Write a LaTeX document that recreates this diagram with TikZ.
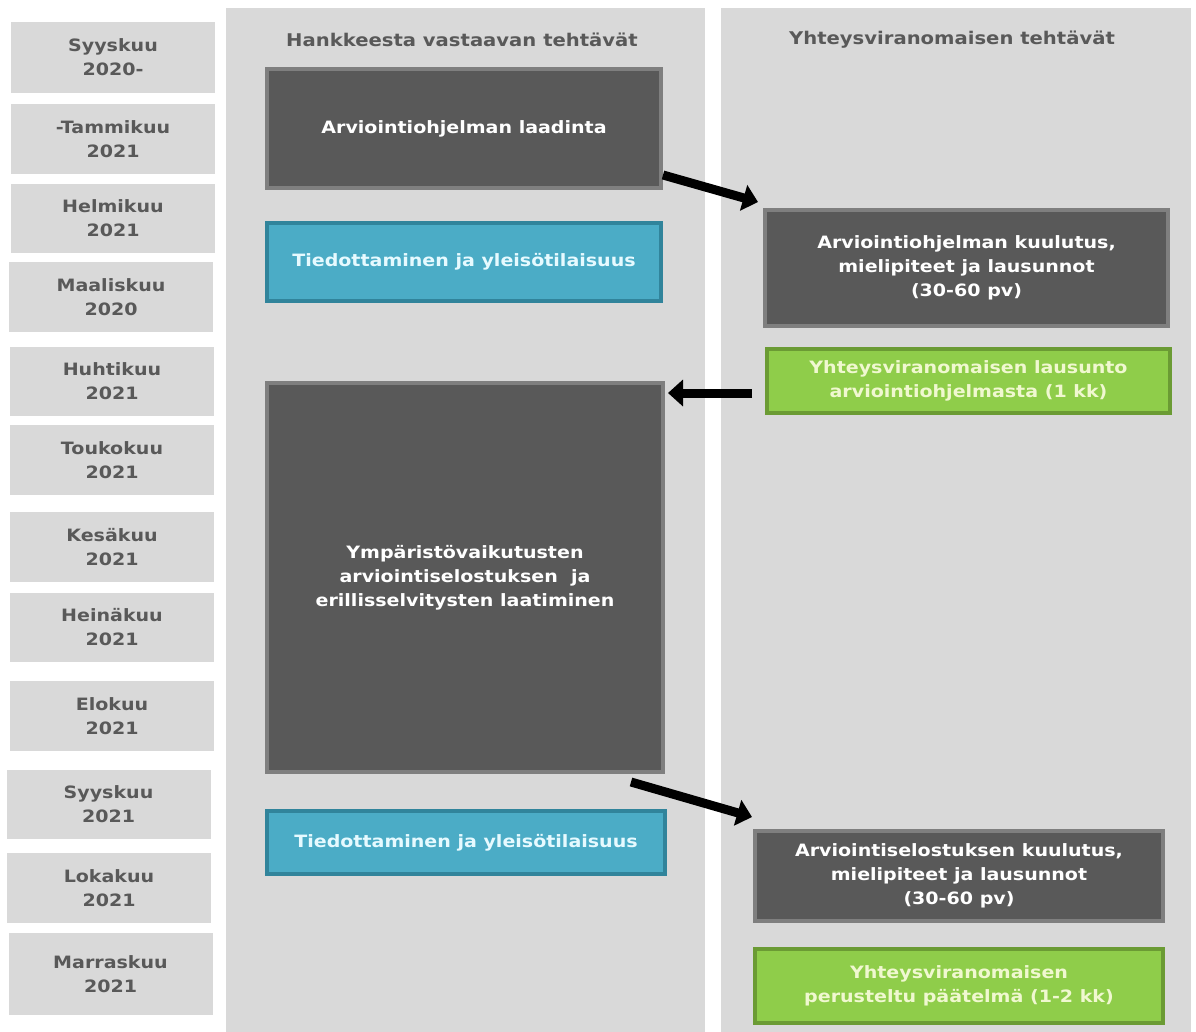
\documentclass[tikz,border=0pt]{standalone}
\usepackage{fontspec}
\setmainfont{DejaVu Sans}[FakeStretch=1.12]
\usetikzlibrary{positioning,arrows.meta}
\definecolor{kuugrey}{HTML}{D9D9D9}
\definecolor{kuutext}{HTML}{595959}
\definecolor{darkfill}{HTML}{595959}
\definecolor{darkline}{HTML}{7F7F7F}
\definecolor{bluefill}{HTML}{4BACC6}
\definecolor{blueline}{HTML}{31849B}
\definecolor{bluetext}{HTML}{E6FAFF}
\definecolor{greenfill}{HTML}{8FCD4A}
\definecolor{greenline}{HTML}{6B9B34}
\definecolor{greentext}{HTML}{F0F8D0}

\begin{document}
\begin{tikzpicture}[x=1pt,y=-1pt,
                month/.style={rectangle, fill=kuugrey, text=kuutext, align=center,
                    minimum width=204pt, inner sep=0pt,
                    font=\fontsize{17}{24}\selectfont\bfseries},
                header/.style={text=kuutext, font=\fontsize{17.5}{24}\selectfont\bfseries},
                task/.style={rectangle, line width=4pt, align=center, inner sep=0pt,
                    font=\fontsize{17}{24}\selectfont\bfseries},
                darkbox/.style={task, draw=darkline, fill=darkfill, text=white},
                bluebox/.style={task, draw=blueline, fill=bluefill, text=bluetext},
                greenbox/.style={task, draw=greenline, fill=greenfill, text=greentext},
                bigarrow/.style={line width=9pt, -{Triangle[length=15pt,width=26pt]}},]
            \useasboundingbox (0,0) rectangle (1196,1032);
            \fill[kuugrey] (226,8) rectangle (705,1032);
            \fill[kuugrey] (721,8) rectangle (1191,1032);

            \foreach \x/\y/\h/\name/\txt in {
                    113/57.5/71/m1/{Syyskuu\\2020-},
                    113/139/70/m2/{-Tammikuu\\2021},
                    113/218.5/69/m3/{Helmikuu\\2021},
                    111/297/70/m4/{Maaliskuu\\2020},
                    112/381.5/69/m5/{Huhtikuu\\2021},
                    112/460/70/m6/{Toukokuu\\2021},
                    112/547/70/m7/{Kesäkuu\\2021},
                    112/627.5/69/m8/{Heinäkuu\\2021},
                    112/716/70/m9/{Elokuu\\2021},
                    108.5/804.5/69/m10/{Syyskuu\\2021},
                    109/888/70/m11/{Lokakuu\\2021},
                    110.5/974/82/m12/{Marraskuu\\2021}}
                \node[month, minimum height=\h pt] (\name) at (\x,\y) {\txt};

            \node[header] (hanke) at (462,40) {Hankkeesta vastaavan tehtävät};
            \node[header] (yhteys) at (952,40) {Yhteysviranomaisen tehtävät};

            \node[darkbox, minimum width=394pt, minimum height=119pt] (laadinta) at (464,128.5)
                {Arviointiohjelman laadinta};
            \node[bluebox, minimum width=394pt, minimum height=78pt] (tied1) at (464,262)
                {Tiedottaminen ja yleisötilaisuus};
            \node[darkbox, minimum width=403pt, minimum height=116pt] (ohjkuul) at (966.5,268)
                {Arviointiohjelman kuulutus,\\mielipiteet ja lausunnot\\(30-60 pv)};
            \node[greenbox, minimum width=403pt, minimum height=64pt] (lausunto) at (968.5,381)
                {Yhteysviranomaisen lausunto\\arviointiohjelmasta (1 kk)};
            \node[darkbox, minimum width=396pt, minimum height=389pt] (ymparisto) at (465,577.5)
                {Ympäristövaikutusten\\arviointiselostuksen~~ja\\erillisselvitysten laatiminen};
            \node[bluebox, minimum width=398pt, minimum height=63pt] (tied2) at (466,842.5)
                {Tiedottaminen ja yleisötilaisuus};
            \node[darkbox, minimum width=408pt, minimum height=90pt] (selkuul) at (959,876)
                {Arviointiselostuksen kuulutus,\\mielipiteet ja lausunnot\\(30-60 pv)};
            \node[greenbox, minimum width=408pt, minimum height=74pt] (paatelma) at (959,986)
                {Yhteysviranomaisen\\perusteltu päätelmä (1-2 kk)};

            \draw[bigarrow] ([yshift=15pt]laadinta.south east) -- ([shift={(-5pt,6pt)}]ohjkuul.north west);
            \draw[bigarrow] ([shift={(-13pt,-12pt)}]lausunto.west) -- ([shift={(3pt,-12pt)}]ymparisto.north east);
            \draw[bigarrow] ([shift={(-34pt,-8pt)}]ymparisto.south east) -- ([shift={(-1pt,12pt)}]selkuul.north west);
        \end{tikzpicture}
\end{document}
